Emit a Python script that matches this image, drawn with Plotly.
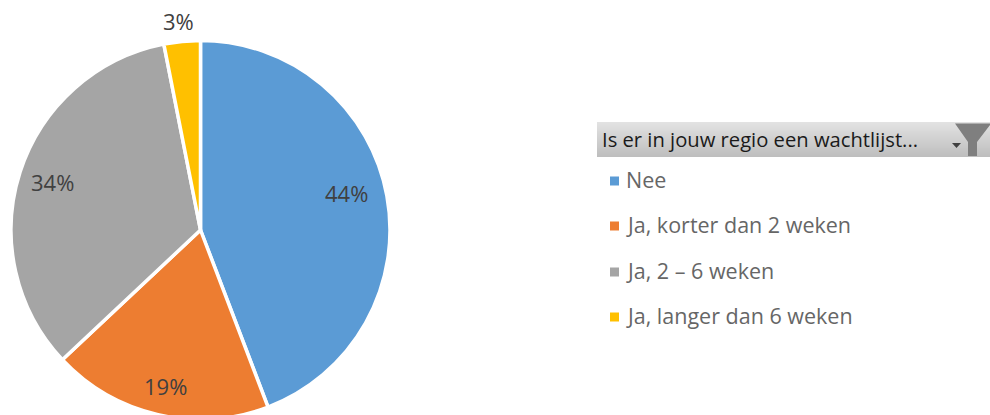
import plotly.graph_objects as go

categories = ["Nee", "Ja, korter dan 2 weken", "Ja, 2 – 6 weken", "Ja, langer dan 6 weken"]
values = [44.2, 18.8, 33.9, 3.1]
colors = ["#5B9BD5", "#ED7D31", "#A5A5A5", "#FFC000"]
filter_title = "Is er in jouw regio een wachtlijst..."

W, H = 990, 422
FONT = "Open Sans"


def px(x):
    return x / W


def py(y):
    return 1 - y / H


# pixel anchors for the data labels, in slice order
label_xy = [(346, 192.5), (165, 385.5), (52, 182.5), (178, 21.5)]
legend_y = [181, 226, 272, 317]

fig = go.Figure(
    go.Pie(
        labels=categories,
        values=values,
        sort=False,
        direction="clockwise",
        rotation=0,
        textinfo="none",
        hoverinfo="label+percent",
        marker=dict(colors=colors, line=dict(color="white", width=3.5)),
        domain=dict(x=[px(11), px(390)], y=[py(419.5), py(40.5)]),
        showlegend=False,
    )
)

shapes = []
annotations = []

# data labels
for v, (x, y) in zip(values, label_xy):
    annotations.append(dict(
        x=px(x), y=py(y), xref="paper", yref="paper", showarrow=False,
        text=f"{round(v)}%", xanchor="center", yanchor="middle",
        font=dict(family=FONT, size=22, color="#404040"),
    ))

# filter header band, drawn as thin strips for its vertical shading
top, bottom = 122, 157
for i in range(top, bottom):
    t = (i - top) / (bottom - top - 1)
    g = round(226 + (190 - 226) * t)
    shapes.append(dict(
        type="rect", xref="paper", yref="paper", layer="below",
        x0=px(597), x1=px(990), y0=py(i), y1=py(i + 1),
        fillcolor=f"rgb({g},{g},{g})", line=dict(width=0),
    ))
annotations.append(dict(
    x=px(600), y=py(139), xref="paper", yref="paper", showarrow=False,
    text=filter_title, xanchor="left", yanchor="middle",
    font=dict(family=FONT, size=20.2, color="#1a1a1a"),
))

# funnel icon and drop-down arrow
funnel = [(955, 123.5), (990, 123.5), (990, 125), (977, 142), (977, 156), (968, 156), (968, 142)]
shapes.append(dict(
    type="path", xref="paper", yref="paper",
    path="M " + " L ".join(f"{px(a)} {py(b)}" for a, b in funnel) + " Z",
    fillcolor="#7f7f7f", line=dict(width=0),
))
arrow = [(952, 143), (961, 143), (956.5, 148)]
shapes.append(dict(
    type="path", xref="paper", yref="paper",
    path="M " + " L ".join(f"{px(a)} {py(b)}" for a, b in arrow) + " Z",
    fillcolor="#404040", line=dict(width=0),
))

# legend entries
for name, col, y in zip(categories, colors, legend_y):
    shapes.append(dict(
        type="rect", xref="paper", yref="paper",
        x0=px(610), x1=px(619), y0=py(y - 4.5), y1=py(y + 4.5),
        fillcolor=col, line=dict(width=0),
    ))
    annotations.append(dict(
        x=px(624), y=py(y - 1.5), xref="paper", yref="paper", showarrow=False,
        text=name, xanchor="left", yanchor="middle",
        font=dict(family=FONT, size=21.5, color="#666666"),
    ))

fig.update_layout(
    width=W, height=H,
    margin=dict(l=0, r=0, t=0, b=0),
    paper_bgcolor="white",
    shapes=shapes,
    annotations=annotations,
)

fig.write_html(
    "out.html",
    config={"displayModeBar": False},
    post_script="document.body.style.margin='0';document.body.style.overflow='hidden';document.documentElement.style.overflow='hidden';",
)
